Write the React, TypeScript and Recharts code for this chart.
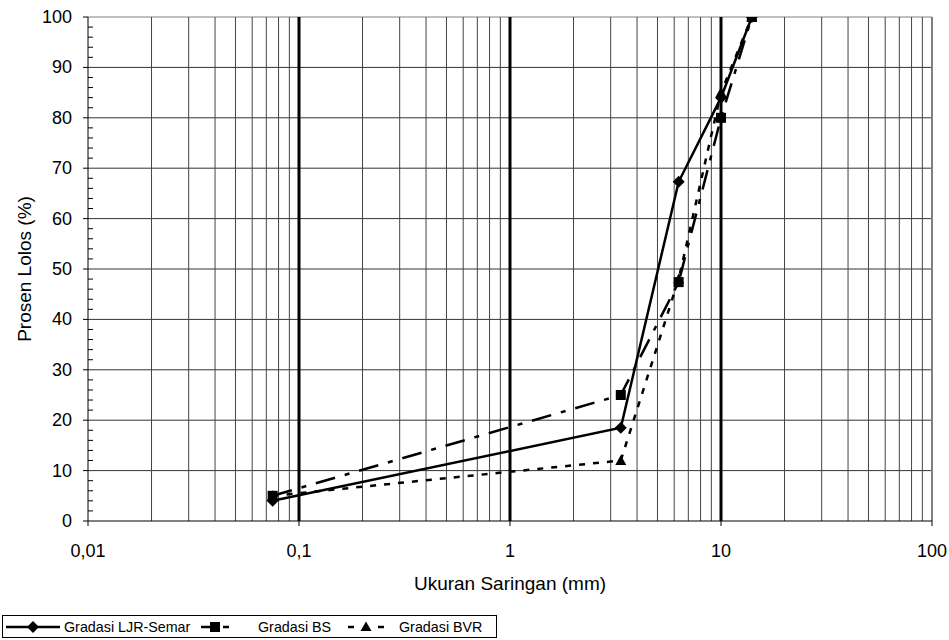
import React from 'react';
import { LineChart, Line, XAxis, YAxis, ReferenceLine } from 'recharts';

const sieveSizes = [0.075, 3.35, 6.3, 10, 14];
const ljrSemar = [4, 18.5, 67.3, 84, 100];
const gradasiBS = [5, 25, 47.4, 80, 100];
const gradasiBVR = [5, 12, 48, 85, 100];

const xTicks = [0.01, 0.1, 1, 10, 100];
const yTicks = [0, 2, 4, 6, 8, 10, 12, 14, 16, 18, 20, 22, 24, 26, 28, 30, 32, 34, 36, 38, 40, 42, 44, 46, 48, 50, 52, 54, 56, 58, 60, 62, 64, 66, 68, 70, 72, 74, 76, 78, 80, 82, 84, 86, 88, 90, 92, 94, 96, 98, 100];
const yGrid = [10, 20, 30, 40, 50, 60, 70, 80, 90];
const xMinorGrid = [0.02, 0.03, 0.04, 0.05, 0.06, 0.07, 0.08, 0.09, 0.2, 0.3, 0.4, 0.5, 0.6, 0.7, 0.8, 0.9, 2, 3, 4, 5, 6, 7, 8, 9, 20, 30, 40, 50, 60, 70, 80, 90];
const xMajorGrid = [0.1, 1, 10];

const seriesNames = ['Gradasi LJR-Semar', 'Gradasi BS', 'Gradasi BVR'];

const data = sieveSizes.map((s, i) => ({
  size: s,
  ljr: ljrSemar[i],
  bs: gradasiBS[i],
  bvr: gradasiBVR[i],
}));

const FONT = '"Liberation Sans", Arial, sans-serif';

const fmt = (v: number) => String(v).replace('.', ',');

const YTick = (props: any) => {
  const { x, y, payload } = props;
  const v = payload.value;
  const major = v % 10 === 0;
  return (
    <g>
      {major ? (
        <line x1={x - 5} x2={x} y1={y} y2={y} stroke="#000" strokeWidth={1} />
      ) : (
        <line x1={x} x2={x + 5} y1={y} y2={y} stroke="#000" strokeWidth={1} />
      )}
      {major && (
        <text x={x - 16} y={y} textAnchor="end" dominantBaseline="central" fontFamily={FONT} fontSize={18} fill="#000">
          {v}
        </text>
      )}
    </g>
  );
};

const XTick = (props: any) => {
  const { x, y, payload } = props;
  return (
    <text x={x} y={y + 31} textAnchor="middle" fontFamily={FONT} fontSize={18} fill="#000">
      {fmt(payload.value)}
    </text>
  );
};

const Diamond = (props: any) => {
  const { cx, cy, index } = props;
  if (cx == null || cy == null) return <g key={`d${index}`} />;
  const r = 6;
  return <path key={`d${index}`} d={`M${cx},${cy - r}L${cx + r},${cy}L${cx},${cy + r}L${cx - r},${cy}Z`} fill="#000" />;
};

const Square = (props: any) => {
  const { cx, cy, index } = props;
  if (cx == null || cy == null) return <g key={`s${index}`} />;
  const r = 5;
  return <rect key={`s${index}`} x={cx - r} y={cy - r} width={2 * r} height={2 * r} fill="#000" />;
};

const Triangle = (props: any) => {
  const { cx, cy, index } = props;
  if (cx == null || cy == null) return <g key={`t${index}`} />;
  const r = 5.5;
  return <path key={`t${index}`} d={`M${cx},${cy - r}L${cx + r},${cy + r - 1}L${cx - r},${cy + r - 1}Z`} fill="#000" />;
};

const YLabel = (props: any) => {
  const { viewBox } = props;
  const cx = viewBox.x - 4;
  const cy = viewBox.y + viewBox.height / 2;
  return (
    <text x={cx} y={cy} transform={`rotate(-90 ${cx} ${cy})`} textAnchor="middle" dominantBaseline="central" fontFamily={FONT} fontSize={19} fill="#000">
      Prosen Lolos (%)
    </text>
  );
};

const XLabel = (props: any) => {
  const { viewBox } = props;
  const cx = viewBox.x + viewBox.width / 2;
  return (
    <text x={cx} y={viewBox.y + 69} textAnchor="middle" fontFamily={FONT} fontSize={19} fill="#000">
      Ukuran Saringan (mm)
    </text>
  );
};

const LegendBox = () => (
  <svg width={496} height={24} style={{ position: 'absolute', left: 2, top: 615 }}>
    <rect x={0.5} y={0.5} width={494} height={22} fill="#fff" stroke="#000" strokeWidth={1} />
    {/* LJR */}
    <line x1={4} x2={58} y1={12} y2={12} stroke="#000" strokeWidth={2.5} />
    <path d="M31,6L37,12L31,18L25,12Z" fill="#000" />
    <text x={62} y={17} fontFamily={FONT} fontSize={14.3} fill="#000">{seriesNames[0]}</text>
    {/* BS */}
    <line x1={199} x2={215} y1={12} y2={12} stroke="#000" strokeWidth={2.5} />
    <line x1={221} x2={227} y1={12} y2={12} stroke="#000" strokeWidth={2.5} />
    <rect x={208} y={7} width={10} height={10} fill="#000" />
    <text x={256} y={17} fontFamily={FONT} fontSize={14.3} fill="#000">{seriesNames[1]}</text>
    {/* BVR */}
    <line x1={346} x2={352} y1={12} y2={12} stroke="#000" strokeWidth={2.5} />
    <line x1={376} x2={382} y1={12} y2={12} stroke="#000" strokeWidth={2.5} />
    <path d="M364,6.5L369.5,16L358.5,16Z" fill="#000" />
    <text x={397} y={17} fontFamily={FONT} fontSize={14.3} fill="#000">{seriesNames[2]}</text>
  </svg>
);

export default function App() {
  return (
    <div style={{ position: 'absolute', left: 0, top: 0, width: 949, height: 640, background: '#fff' }}>
      <LineChart width={949} height={640} data={data} margin={{ top: 17, right: 17, bottom: 49, left: 28 }}>
        <XAxis
          dataKey="size"
          type="number"
          scale="log"
          domain={[0.01, 100]}
          ticks={xTicks}
          allowDataOverflow
          height={70}
          tickSize={5}
          tickMargin={0}
          tick={<XTick />}
          axisLine={{ stroke: '#000', strokeWidth: 1 }}
          tickLine={{ stroke: '#000', strokeWidth: 1 }}
          interval={0}
          label={<XLabel />}
        />
        <YAxis
          type="number"
          domain={[0, 100]}
          ticks={yTicks}
          width={60}
          tickSize={0}
          tickMargin={0}
          tickLine={false}
          tick={<YTick />}
          axisLine={{ stroke: '#000', strokeWidth: 1 }}
          interval={0}
          allowDataOverflow
          label={<YLabel />}
        />
        {yGrid.map((v) => (
          <ReferenceLine key={`hy${v}`} y={v} stroke="#333" strokeWidth={1} />
        ))}
        <ReferenceLine y={100} stroke="#808080" strokeWidth={1} />
        {xMinorGrid.map((v) => (
          <ReferenceLine key={`vx${v}`} x={v} stroke="#444" strokeWidth={1} />
        ))}
        {xMajorGrid.map((v) => (
          <ReferenceLine key={`vX${v}`} x={v} stroke="#000" strokeWidth={3} />
        ))}
        <ReferenceLine x={100} stroke="#808080" strokeWidth={2} />
        <Line
          type="linear"
          dataKey="bvr"
          name={seriesNames[2]}
          stroke="#000"
          strokeWidth={2.5}
          strokeDasharray="6 8"
          dot={Triangle}
          activeDot={false}
          isAnimationActive={false}
        />
        <Line
          type="linear"
          dataKey="ljr"
          name={seriesNames[0]}
          stroke="#000"
          strokeWidth={2.5}
          dot={Diamond}
          activeDot={false}
          isAnimationActive={false}
        />
        <Line
          type="linear"
          dataKey="bs"
          name={seriesNames[1]}
          stroke="#000"
          strokeWidth={2.5}
          strokeDasharray="20 10 5 10"
          dot={Square}
          activeDot={false}
          isAnimationActive={false}
        />
      </LineChart>
      <LegendBox />
    </div>
  );
}
